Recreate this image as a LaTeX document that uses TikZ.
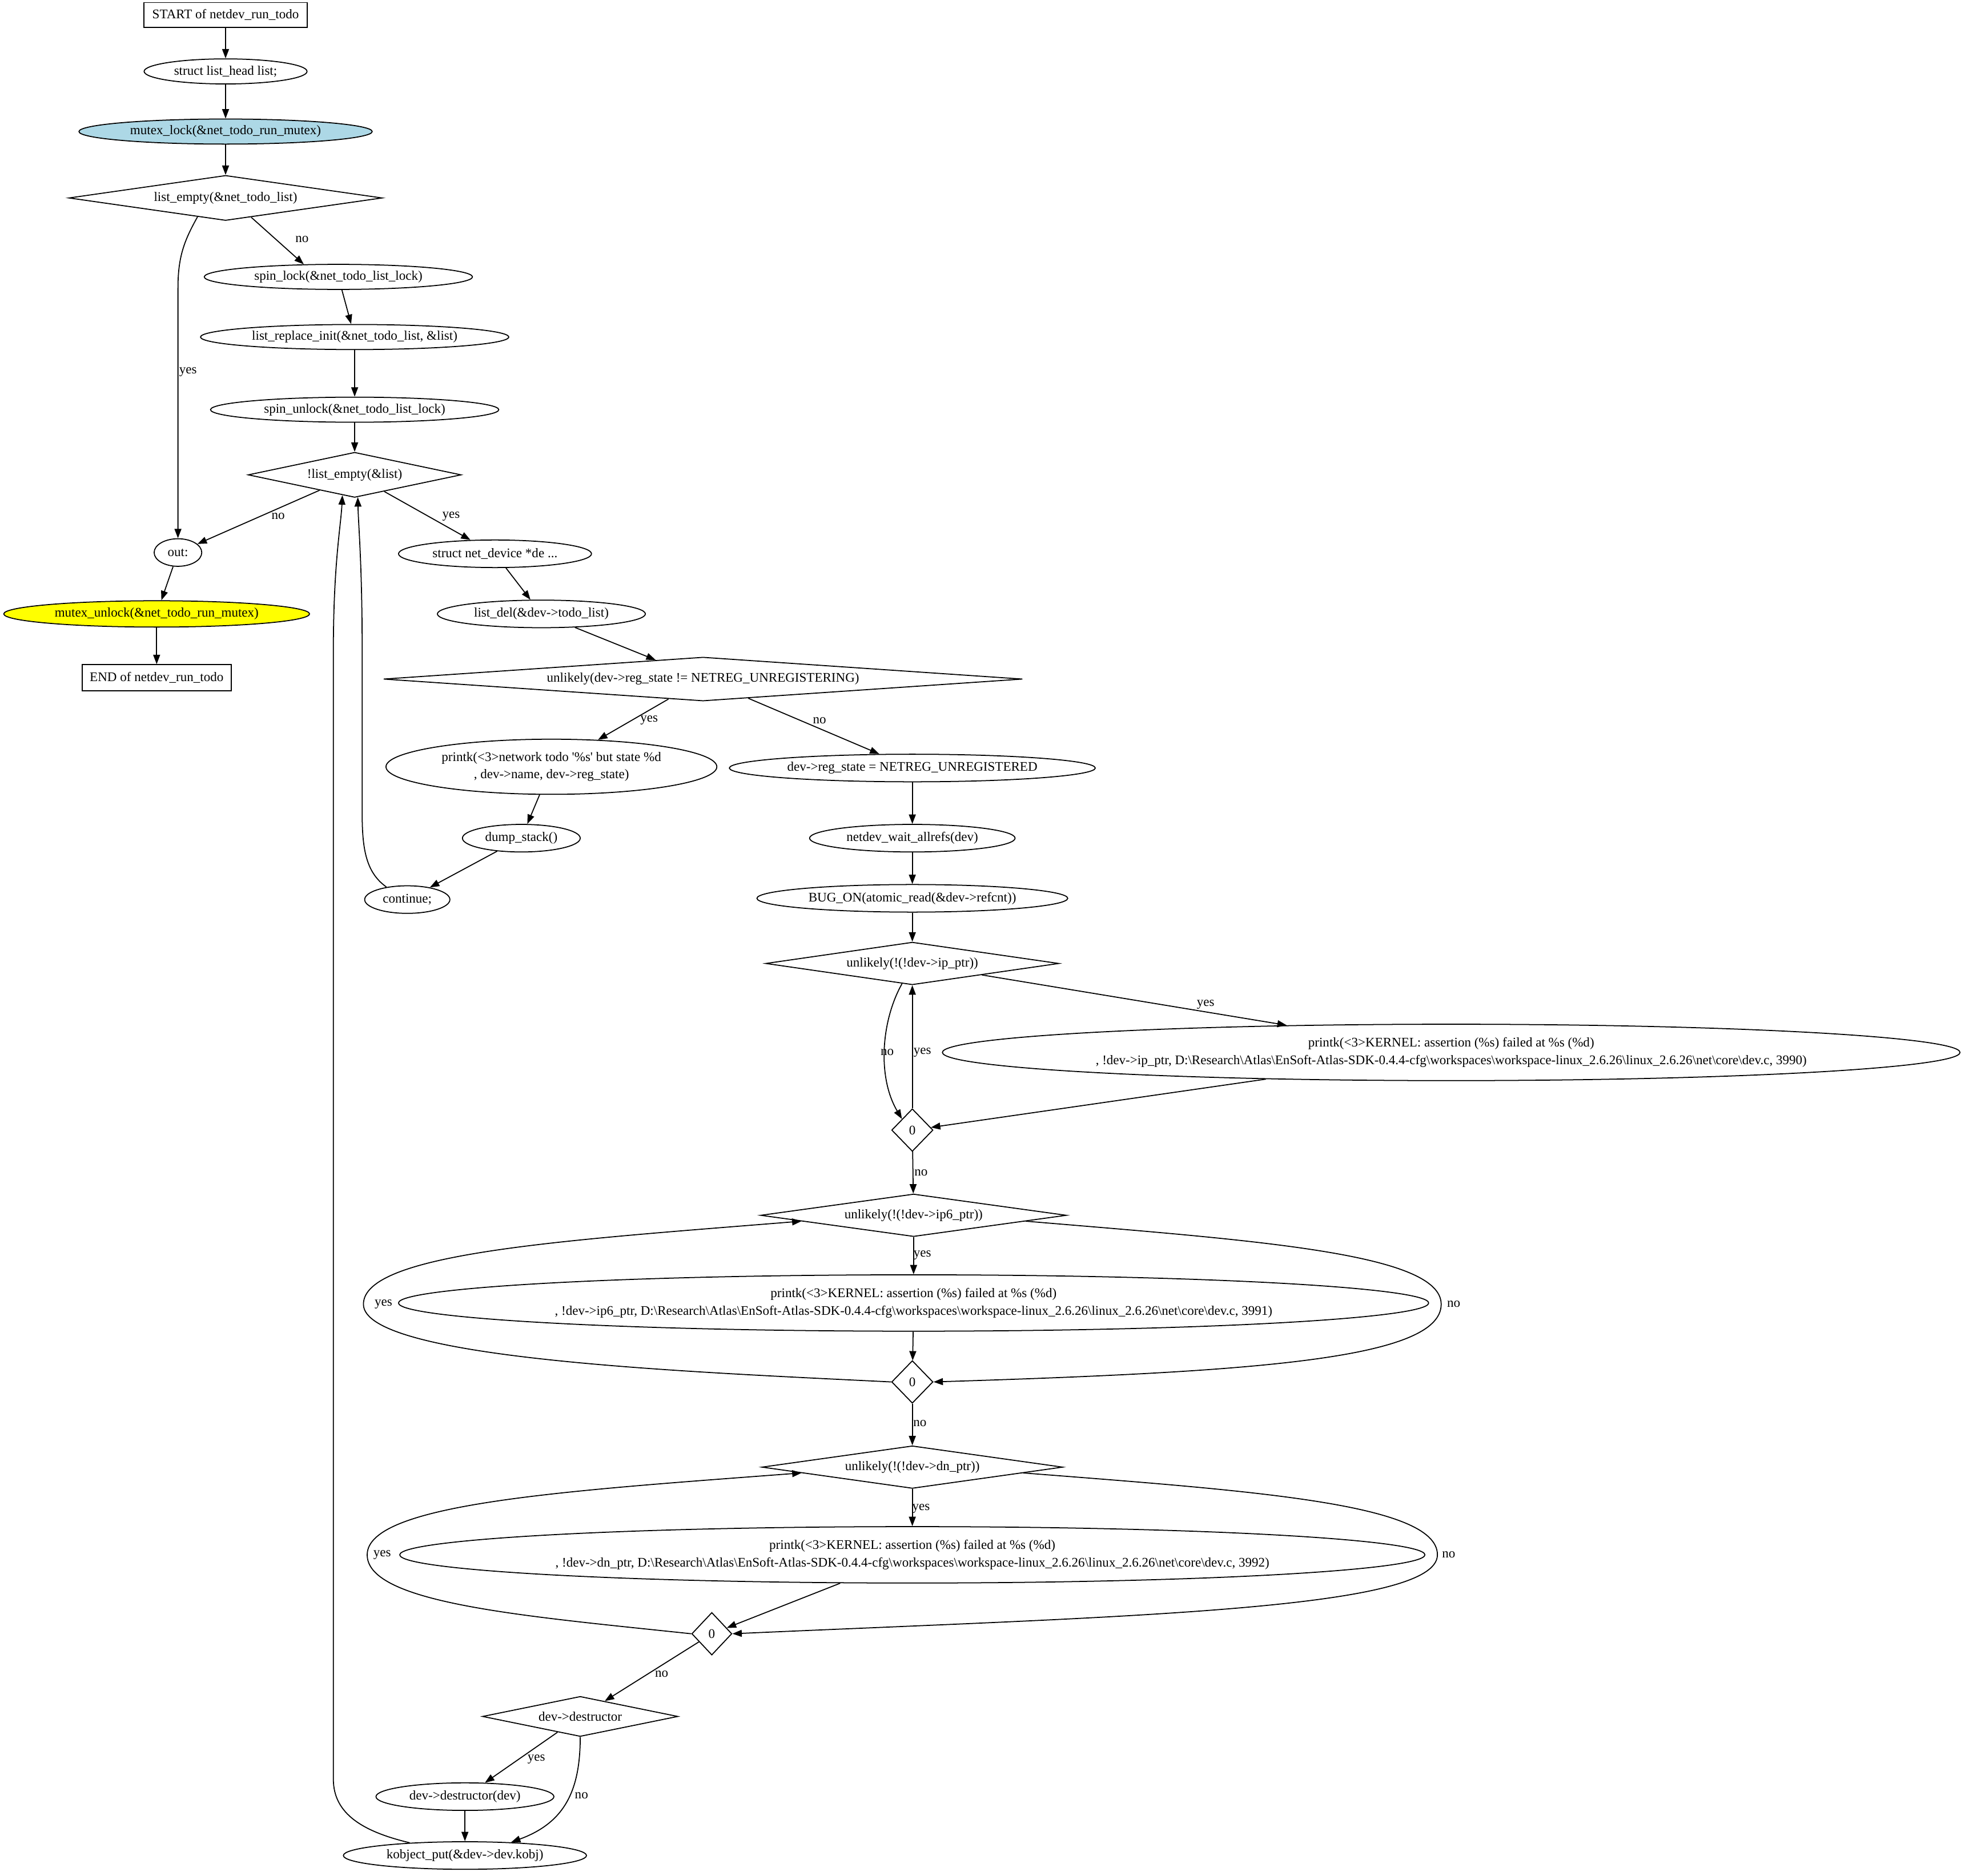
\documentclass[tikz,border=0pt]{standalone}
\usepackage{fontspec}
\setmainfont{Liberation Serif}
\usetikzlibrary{shapes.geometric,arrows.meta}
\newcommand{\bsl}{\textbackslash}
\newcommand{\srcpath}{D:\bsl Research\bsl Atlas\bsl EnSoft-Atlas-SDK-0.4.4-cfg\bsl workspaces\bsl workspace-linux\_2.6.26\bsl linux\_2.6.26\bsl net\bsl core\bsl dev.c}
\newcommand{\kmsg}{printk(<3>KERNEL: assertion (\%s) failed at \%s (\%d)}
\definecolor{gvblue}{HTML}{ADD8E6}
\definecolor{gvyellow}{HTML}{FFFF00}
\tikzset{
  base/.style={draw, line width=0.8pt, inner sep=0pt, align=center, font=\fontsize{10.5}{14}\selectfont},
  term/.style={base, rectangle},
  proc/.style={base, ellipse},
  cond/.style={base, diamond},
  lbl/.style={inner sep=0pt, font=\fontsize{10.5}{14}\selectfont},
  arr/.style={line width=0.8pt, -{Triangle[length=7.5pt,width=5.5pt]}},
}
\begin{document}
\begin{tikzpicture}[x=1pt,y=-1pt]
\useasboundingbox (0,0) rectangle (1568,1497);

% left column
\node[term, minimum width=130pt, minimum height=20pt] (start) at (180,12) {START of netdev\_run\_todo};
\node[proc, minimum width=130pt, minimum height=20pt] (decl) at (180,57) {struct list\_head list;};
\node[proc, fill=gvblue, minimum width=234pt, minimum height=20pt] (lock) at (180,105) {mutex\_lock(\&net\_todo\_run\_mutex)};
\node[cond, minimum width=250pt, minimum height=36pt, aspect=6.9] (chk1) at (180,158) {list\_empty(\&net\_todo\_list)};
\node[proc, minimum width=214pt, minimum height=20pt] (spinlock) at (270,221) {spin\_lock(\&net\_todo\_list\_lock)};
\node[proc, minimum width=246pt, minimum height=20pt] (replace) at (283,269) {list\_replace\_init(\&net\_todo\_list, \&list)};
\node[proc, minimum width=230pt, minimum height=20pt] (spinunlock) at (283,327) {spin\_unlock(\&net\_todo\_list\_lock)};
\node[cond, minimum width=170pt, minimum height=36pt, aspect=4.7] (loop) at (283,379) {!list\_empty(\&list)};
\node[proc, minimum width=38pt, minimum height=22pt] (out) at (142,441) {out:};
\node[proc, fill=gvyellow, minimum width=244pt, minimum height=21pt] (unlock) at (125,490) {mutex\_unlock(\&net\_todo\_run\_mutex)};
\node[term, minimum width=119pt, minimum height=21pt] (end) at (125,541) {END of netdev\_run\_todo};

% loop body
\node[proc, minimum width=154pt, minimum height=22pt] (dev) at (395,442) {struct net\_device *de ...};
\node[proc, minimum width=166pt, minimum height=22pt] (del) at (432,490) {list\_del(\&dev->todo\_list)};
\node[cond, minimum width=510pt, minimum height=35pt, aspect=14.6] (regchk) at (561,542) {unlikely(dev->reg\_state != NETREG\_UNREGISTERING)};
\node[proc, minimum width=264pt, minimum height=44pt] (warn) at (440,612) {printk(<3>network todo \textquotesingle\%s\textquotesingle{} but state \%d\\, dev->name, dev->reg\_state)};
\node[proc, minimum width=94pt, minimum height=22pt] (dump) at (416,669) {dump\_stack()};
\node[proc, minimum width=68pt, minimum height=22pt] (cont) at (325,718) {continue;};
\node[proc, minimum width=292pt, minimum height=22pt] (setstate) at (728,613) {dev->reg\_state = NETREG\_UNREGISTERED};
\node[proc, minimum width=164pt, minimum height=22pt] (wait) at (728,669) {netdev\_wait\_allrefs(dev)};
\node[proc, minimum width=248pt, minimum height=22pt] (bug) at (728,717) {BUG\_ON(atomic\_read(\&dev->refcnt))};

% assertions
\node[cond, minimum width=234pt, minimum height=34pt, aspect=6.9] (ipchk) at (728,769) {unlikely(!(!dev->ip\_ptr))};
\node[proc, minimum width=812pt, minimum height=45pt] (ipmsg) at (1158,840) {\kmsg\\, !dev->ip\_ptr, \srcpath, 3990)};
\node[cond, minimum width=33pt, minimum height=34pt, aspect=1] (ipzero) at (728,902) {0};
\node[cond, minimum width=244pt, minimum height=34pt, aspect=7.2] (ip6chk) at (729,970) {unlikely(!(!dev->ip6\_ptr))};
\node[proc, minimum width=822pt, minimum height=45pt] (ip6msg) at (729,1040) {\kmsg\\, !dev->ip6\_ptr, \srcpath, 3991)};
\node[cond, minimum width=33pt, minimum height=34pt, aspect=1] (ip6zero) at (728,1103) {0};
\node[cond, minimum width=240pt, minimum height=34pt, aspect=7.1] (dnchk) at (728,1171) {unlikely(!(!dev->dn\_ptr))};
\node[proc, minimum width=818pt, minimum height=45pt] (dnmsg) at (728,1241) {\kmsg\\, !dev->dn\_ptr, \srcpath, 3992)};
\node[cond, minimum width=32pt, minimum height=34pt, aspect=1] (dnzero) at (568,1304) {0};
\node[cond, minimum width=156pt, minimum height=32pt, aspect=4.9] (dtorchk) at (463,1370) {dev->destructor};
\node[proc, minimum width=142pt, minimum height=22pt] (dtor) at (371,1434) {dev->destructor(dev)};
\node[proc, minimum width=194pt, minimum height=22pt] (put) at (371,1481) {kobject\_put(\&dev->dev.kobj)};

% connectors
\draw[arr] (start) -- (decl);
\draw[arr] (decl) -- (lock);
\draw[arr] (lock) -- (chk1);
\draw[arr] (chk1.-37) -- (spinlock.160);
\draw[arr] (chk1.214) .. controls (147,192) and (142,205) .. (142,230) -- (out);
\draw[arr] (spinlock) -- (replace);
\draw[arr] (replace) -- (spinunlock);
\draw[arr] (spinunlock) -- (loop);
\draw[arr] (loop) -- (out);
\draw[arr] (loop) -- (dev);
\draw[arr] (out) -- (unlock);
\draw[arr] (unlock) -- (end);
\draw[arr] (dev) -- (del);
\draw[arr] (del) -- (regchk);
\draw[arr] (regchk) -- (warn);
\draw[arr] (regchk) -- (setstate);
\draw[arr] (warn) -- (dump);
\draw[arr] (dump) -- (cont);
\draw[arr] (cont.149) .. controls (293,697) and (289,680) .. (289,650) -- (289,520) .. controls (289,450) and (286,420) .. (loop.-82);
\draw[arr] (setstate) -- (wait);
\draw[arr] (wait) -- (bug);
\draw[arr] (bug) -- (ipchk);
\draw[arr] (ipchk) -- (ipmsg);
\draw[arr] (ipchk.-117) .. controls (703,815) and (700,860) .. (ipzero.133);
\draw[arr] (ipzero) -- (ipchk);
\draw[arr] (ipmsg) -- (ipzero);
\draw[arr] (ipzero) -- (ip6chk);
\draw[arr] (ip6chk) -- (ip6msg);
\draw[arr] (ip6msg) -- (ip6zero);
\draw[arr] (ip6chk.-3) .. controls (1000,990) and (1150,1000) .. (1150,1041) .. controls (1150,1085) and (1000,1095) .. (ip6zero.east);
\draw[arr] (ip6zero.west) .. controls (550,1095) and (290,1085) .. (290,1041) .. controls (290,1000) and (450,990) .. (ip6chk.183);
\draw[arr] (ip6zero) -- (dnchk);
\draw[arr] (dnchk) -- (dnmsg);
\draw[arr] (dnmsg) -- (dnzero);
\draw[arr] (dnchk.-3) .. controls (1000,1190) and (1147,1200) .. (1147,1241) .. controls (1147,1285) and (900,1290) .. (dnzero.east);
\draw[arr] (dnzero.west) .. controls (420,1290) and (293,1280) .. (293,1241) .. controls (293,1200) and (450,1190) .. (dnchk.183);
\draw[arr] (dnzero) -- (dtorchk);
\draw[arr] (dtorchk) -- (dtor);
\draw[arr] (dtorchk.south) .. controls (463,1430) and (450,1455) .. (put.16);
\draw[arr] (dtor) -- (put);
\draw[arr] (put.167) .. controls (290,1462) and (266,1448) .. (266,1420) -- (266,520) .. controls (266,450) and (272,420) .. (loop.-121);

% edge labels
\node[lbl] (noA) at (241,191) {no};
\node[lbl] (yesA) at (150,297) {yes};
\node[lbl] (noB) at (222,412) {no};
\node[lbl] (yesB) at (360,412) {yes};
\node[lbl] (yesC) at (518,575) {yes};
\node[lbl] (noC) at (654,575) {no};
\node[lbl] (yesD) at (962,802) {yes};
\node[lbl] (noD) at (708,840) {no};
\node[lbl] (yesE) at (736,840) {yes};
\node[lbl] (noE) at (735,936) {no};
\node[lbl] (yesF) at (736,1002) {yes};
\node[lbl] (noF) at (1160,1041) {no};
\node[lbl] (yesG) at (306,1041) {yes};
\node[lbl] (noG) at (734,1136) {no};
\node[lbl] (yesH) at (735,1204) {yes};
\node[lbl] (noH) at (1156,1241) {no};
\node[lbl] (yesI) at (305,1241) {yes};
\node[lbl] (noI) at (528,1336) {no};
\node[lbl] (yesJ) at (428,1404) {yes};
\node[lbl] (noJ) at (464,1433) {no};
\end{tikzpicture}
\end{document}
